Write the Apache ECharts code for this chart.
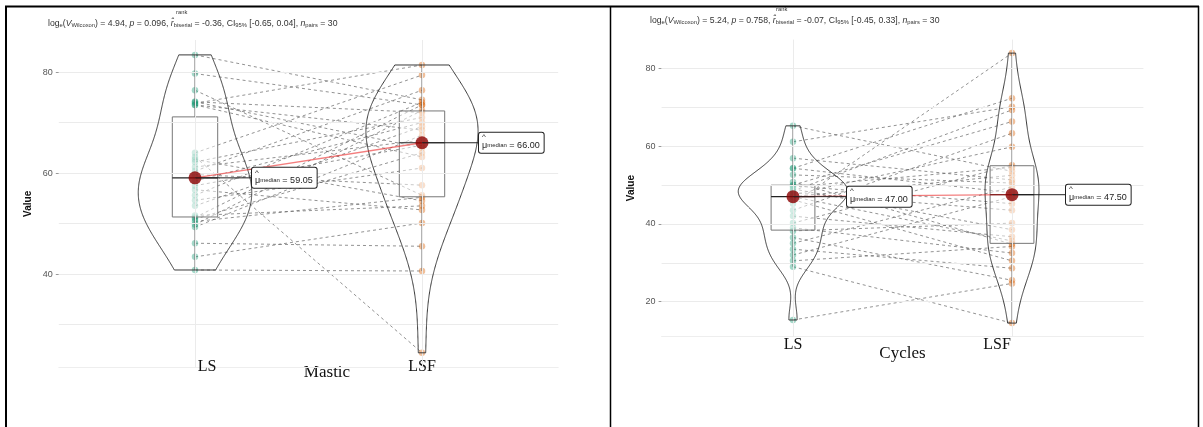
<!DOCTYPE html>
<html>
<head>
<meta charset="utf-8">
<script src="https://cdn.jsdelivr.net/npm/echarts@6/dist/echarts.min.js"></script>
<style>
  html, body { margin: 0; padding: 0; background: #fff; }
  #chart { width: 1203px; height: 427px; }
</style>
</head>
<body>
<div id="chart"></div>
<script>
// Conditions compared within subjects
const groups = ['LS', 'LSF'];

// Mastic: index i is the same subject in both arrays
const masticLS  = [40.8, 43.4, 46.1, 49.3, 49.8, 50.4, 50.9, 51.2, 51.6, 53.5, 54.6, 55.6, 56.7, 57.5, 58.4,
                   59.7, 60.4, 61.2, 62.2, 62.7, 63.2, 64.0, 73.5, 73.5, 73.8, 74.1, 74.1, 76.4, 79.7, 83.4];
const masticLSF = [40.6, 50.1, 45.5, 67.5, 72.4, 55.2, 64.0, 73.5, 53.5, 69.2, 61.0, 74.0, 52.7, 65.5, 70.0,
                   57.6, 76.4, 66.5, 71.0, 54.5, 24.4, 79.4, 68.5, 63.2, 81.4, 65.0, 72.0, 55.6, 73.5, 74.5];

// Cycles: index i is the same subject in both arrays
const cyclesLS  = [15.3, 29.0, 30.5, 32.0, 33.5, 35.0, 36.5, 38.2, 39.0, 40.2, 42.0, 43.5, 45.2, 46.2, 47.0,
                   47.0, 47.5, 48.0, 48.5, 49.0, 49.5, 49.8, 50.0, 50.8, 52.6, 54.3, 54.3, 56.9, 61.1, 65.2];
const cyclesLSF = [24.7, 14.5, 34.2, 47.0, 28.6, 49.5, 25.5, 40.2, 32.5, 55.1, 36.7, 63.3, 83.9, 30.5, 52.5,
                   35.6, 59.8, 43.5, 69.3, 38.5, 54.5, 45.2, 66.3, 34.8, 50.5, 72.3, 48.0, 51.3, 70.1, 53.5];

// Axis ticks (labelled) and minor grid values
const masticTicks = [40, 60, 80];
const masticMinor = [30, 50, 70];
const cyclesTicks = [20, 40, 60, 80];
const cyclesMinor = [30, 50, 70];

// Wilcoxon signed-rank test summaries
const masticTest = { logV: '4.94', p: '0.096', r: '-0.36', ci: '[-0.65, 0.04]', n: '30' };
const cyclesTest = { logV: '5.24', p: '0.758', r: '-0.07', ci: '[-0.45, 0.33]', n: '30' };

// ---------- statistics helpers ----------
function quantile(sorted, p) {
  const h = (sorted.length - 1) * p, lo = Math.floor(h);
  const hiV = sorted[Math.min(lo + 1, sorted.length - 1)];
  return sorted[lo] + (h - lo) * (hiV - sorted[lo]);
}
function boxStats(vals) {
  const s = [...vals].sort((a, b) => a - b);
  const q1 = quantile(s, 0.25), med = quantile(s, 0.5), q3 = quantile(s, 0.75);
  const iqr = q3 - q1;
  const lo = s.find(v => v >= q1 - 1.5 * iqr);
  const hi = [...s].reverse().find(v => v <= q3 + 1.5 * iqr);
  return { q1, med, q3, lo, hi, min: s[0], max: s[s.length - 1], sorted: s };
}
// Gaussian kernel density, rule-of-thumb bandwidth times an adjustment factor
function kde(vals, n, adjust) {
  const st = boxStats(vals), N = vals.length;
  const mean = vals.reduce((a, b) => a + b, 0) / N;
  const sd = Math.sqrt(vals.reduce((a, b) => a + (b - mean) * (b - mean), 0) / (N - 1));
  const bw = adjust * 0.9 * Math.min(sd, (st.q3 - st.q1) / 1.34) * Math.pow(N, -0.2);
  const ys = [], ds = [];
  for (let i = 0; i < n; i++) {
    const y = st.min + (st.max - st.min) * i / (n - 1);
    let d = 0;
    for (const x of vals) { const z = (y - x) / bw; d += Math.exp(-0.5 * z * z); }
    ys.push(y); ds.push(d / (N * bw * Math.sqrt(2 * Math.PI)));
  }
  return { ys, ds };
}

const SANS = 'Liberation Sans';
const SERIF = 'Liberation Serif';

function subtitleText(t) {
  return '{t|log}{s|e}{t|(}{i|V}{s|Wilcoxon}{t|) = ' + t.logV + ', }{i|p}{t| = ' + t.p +
         ', }{i|r\u0302}{s|biserial}{t| = ' + t.r + ', CI}{s|95%}{t| ' + t.ci + ', }{i|n}{s|pairs}{t| = ' + t.n + '}';
}
const subRich = {
  t: { fontSize: 8.7, fontFamily: SANS, color: '#333', fontWeight: 'normal', lineHeight: 14, verticalAlign: 'bottom' },
  i: { fontSize: 8.7, fontFamily: SANS, color: '#333', fontWeight: 'normal', fontStyle: 'italic', lineHeight: 14, verticalAlign: 'bottom' },
  s: { fontSize: 5.8, fontFamily: SANS, color: '#333', fontWeight: 'normal', lineHeight: 6, verticalAlign: 'bottom' }
};

function buildPanel(k, ls, lsf, cfg) {
  const all = ls.concat(lsf);
  const lo = Math.min(...all), hi = Math.max(...all), pad = (hi - lo) * 0.05;
  const stats = [boxStats(ls), boxStats(lsf)];
  const dens = [kde(ls, 256, cfg.adjust), kde(lsf, 256, cfg.adjust)];
  const dMax = Math.max(...dens[0].ds, ...dens[1].ds);
  const medData = [[1, stats[0].med], [2, stats[1].med]];
  const ax = { xAxisIndex: k, yAxisIndex: k };

  const grid = { left: cfg.left, top: cfg.top, width: cfg.width, height: cfg.height };

  const xAxis = {
    gridIndex: k, type: 'value', min: 0.4, max: 2.6,
    splitLine: { show: false }, axisTick: { show: false },
    axisLine: { show: true, lineStyle: { color: '#eeeeee', width: 1 } },
    axisLabel: {
      customValues: [1, 2], margin: cfg.xLabelMargin, verticalAlign: 'middle',
      formatter: v => '{c' + (Math.round(v) - 1) + '|' + groups[Math.round(v) - 1] + '}',
      rich: {
        c0: { fontFamily: SERIF, fontSize: 16, color: '#111', padding: cfg.pad0 },
        c1: { fontFamily: SERIF, fontSize: 16, color: '#111', padding: cfg.pad1 }
      }
    },
    name: cfg.name, nameLocation: 'middle', nameGap: cfg.nameGap, nameMoveOverlap: false,
    nameTextStyle: { fontFamily: SERIF, fontSize: 17, color: '#111', verticalAlign: 'middle', padding: cfg.namePad }
  };

  const yAxis = {
    gridIndex: k, type: 'value', min: lo - pad, max: hi + pad,
    splitLine: { show: false }, axisLine: { show: false },
    axisTick: { show: true, customValues: cfg.ticks, length: 3, lineStyle: { color: '#999' } },
    axisLabel: { customValues: cfg.ticks, color: '#555', fontSize: 9, fontFamily: SANS, margin: 6 },
    name: 'Value', nameLocation: 'middle', nameGap: cfg.yNameGap, nameMoveOverlap: false,
    nameTextStyle: { fontFamily: SANS, fontSize: 10, fontWeight: 'bold', color: '#111' }
  };

  const series = [];
  // background grid lines
  series.push(Object.assign({
    type: 'line', data: [], silent: true, z: 1,
    markLine: {
      silent: true, symbol: ['none', 'none'], label: { show: false }, animation: false,
      lineStyle: { color: '#ebebeb', width: 1, type: 'solid' },
      data: cfg.minor.concat(cfg.ticks).map(v => ({ yAxis: v })).concat([{ xAxis: 1 }, { xAxis: 2 }])
    }
  }, ax));
  // paired observations
  series.push(Object.assign({
    type: 'custom', z: 2, silent: true,
    data: ls.map((a, i) => [1, a, 2, lsf[i]]),
    encode: { x: [0, 2], y: [1, 3] },
    renderItem: (p, api) => {
      const a = api.coord([api.value(0), api.value(1)]);
      const b = api.coord([api.value(2), api.value(3)]);
      return { type: 'line', shape: { x1: a[0], y1: a[1], x2: b[0], y2: b[1] },
               style: { stroke: 'rgba(100,100,100,0.7)', lineWidth: 1, lineDash: [3, 3] } };
    }
  }, ax));
  // raw points
  series.push(Object.assign({ type: 'scatter', z: 3, silent: true, symbolSize: 6.5,
    itemStyle: { color: 'rgba(27,158,119,0.5)' }, data: ls.map(v => [1, v]) }, ax));
  series.push(Object.assign({ type: 'scatter', z: 3, silent: true, symbolSize: 6.5,
    itemStyle: { color: 'rgba(217,95,2,0.5)' }, data: lsf.map(v => [2, v]) }, ax));
  // box plots
  series.push(Object.assign({
    type: 'custom', z: 4, silent: true,
    data: stats.map((s, i) => [i + 1, s.q1, s.med, s.q3, s.lo, s.hi]),
    encode: { x: 0, y: [1, 2, 3, 4, 5] },
    renderItem: (p, api) => {
      const c = api.value(0), q1 = api.value(1), med = api.value(2), q3 = api.value(3);
      const wlo = api.value(4), whi = api.value(5), h = 0.1;
      const tl = api.coord([c - h, q3]), br = api.coord([c + h, q1]);
      const m1 = api.coord([c - h, med]), m2 = api.coord([c + h, med]);
      const t1 = api.coord([c, whi]), t2 = api.coord([c, q3]);
      const b1 = api.coord([c, q1]), b2 = api.coord([c, wlo]);
      return { type: 'group', children: [
        { type: 'rect', shape: { x: tl[0], y: tl[1], width: br[0] - tl[0], height: br[1] - tl[1] },
          style: { fill: 'rgba(255,255,255,0.5)', stroke: '#777', lineWidth: 1 } },
        { type: 'line', shape: { x1: t1[0], y1: t1[1], x2: t2[0], y2: t2[1] }, style: { stroke: '#666', lineWidth: 1 } },
        { type: 'line', shape: { x1: b1[0], y1: b1[1], x2: b2[0], y2: b2[1] }, style: { stroke: '#666', lineWidth: 1 } },
        { type: 'line', shape: { x1: m1[0], y1: m1[1], x2: m2[0], y2: m2[1] }, style: { stroke: '#222', lineWidth: 1.2 } }
      ] };
    }
  }, ax));
  // violins (area-scaled density, trimmed to the data range)
  series.push(Object.assign({
    type: 'custom', z: 5, silent: true,
    data: [[1, stats[0].med], [2, stats[1].med]],
    renderItem: (p, api) => {
      const c = api.value(0), d = dens[p.dataIndex], pts = [];
      for (let j = 0; j < d.ys.length; j++) pts.push(api.coord([c - 0.25 * d.ds[j] / dMax, d.ys[j]]));
      for (let j = d.ys.length - 1; j >= 0; j--) pts.push(api.coord([c + 0.25 * d.ds[j] / dMax, d.ys[j]]));
      return { type: 'polygon', shape: { points: pts },
               style: { fill: 'rgba(0,0,0,0)', stroke: '#3a3a3a', lineWidth: 1 } };
    }
  }, ax));
  // line joining the medians
  series.push(Object.assign({ type: 'line', z: 6, silent: true, symbol: 'none', data: medData,
    lineStyle: { color: 'rgba(235,40,40,0.6)', width: 1.3 } }, ax));
  // median markers
  series.push(Object.assign({ type: 'scatter', z: 7, silent: true, symbolSize: 13,
    itemStyle: { color: '#8b0000' }, data: medData }, ax));
  // median annotations
  series.push(Object.assign({
    type: 'custom', z: 8, silent: true, data: medData,
    renderItem: (p, api) => {
      const pt = api.coord([api.value(0), api.value(1)]);
      const x2 = pt[0] + cfg.labelOffset;
      return { type: 'group', children: [
        { type: 'line', shape: { x1: pt[0], y1: pt[1], x2: x2, y2: pt[1] }, style: { stroke: '#222', lineWidth: 1 } },
        { type: 'text', x: x2, y: pt[1], style: {
            text: '{h|^}\n{m|\u03bc}{s|median}{t| = ' + api.value(1).toFixed(2) + '}',
            align: 'left', verticalAlign: 'middle',
            backgroundColor: '#fff', borderColor: '#222', borderWidth: 1, borderRadius: 2, padding: [2, 4, 2, 3],
            rich: {
              h: { fontSize: 8, fontFamily: SANS, fill: '#222', lineHeight: 5 },
              m: { fontSize: 9, fontFamily: SANS, fill: '#222', lineHeight: 11 },
              s: { fontSize: 6, fontFamily: SANS, fill: '#222', lineHeight: 7 },
              t: { fontSize: 9, fontFamily: SANS, fill: '#222', lineHeight: 11 }
            }
        } }
      ] };
    }
  }, ax));

  return { grid, xAxis, yAxis, series };
}

const left = buildPanel(0, masticLS, masticLSF, {
  left: 58.8, top: 40, width: 499.4, height: 327.7, adjust: 1.4,
  ticks: masticTicks, minor: masticMinor, name: 'Mastic', nameGap: 5, namePad: [0, 0, 0, 37],
  xLabelMargin: -1, pad0: [0, 0, 0, 24], pad1: [0, 0, 0, 0], yNameGap: 26, labelOffset: 57
});
const right = buildPanel(1, cyclesLS, cyclesLSF, {
  left: 661.6, top: 39.6, width: 481.8, height: 297, adjust: 1.0,
  ticks: cyclesTicks, minor: cyclesMinor, name: 'Cycles', nameGap: 17, namePad: [0, 0, 0, 0],
  xLabelMargin: 8, pad0: [0, 0, 0, 0], pad1: [0, 30, 0, 0], yNameGap: 25, labelOffset: 54
});

const chart = echarts.init(document.getElementById('chart'), null, { renderer: 'canvas' });
chart.setOption({
  animation: false,
  backgroundColor: '#fff',
  title: [
    { text: subtitleText(masticTest), left: 48, top: 14, padding: 0, textStyle: { rich: subRich } },
    { text: subtitleText(cyclesTest), left: 650, top: 11, padding: 0, textStyle: { rich: subRich } }
  ],
  grid: [left.grid, right.grid],
  xAxis: [left.xAxis, right.xAxis],
  yAxis: [left.yAxis, right.yAxis],
  series: left.series.concat(right.series),
  graphic: [
    { type: 'text', left: 176, top: 9, style: { text: 'rank', fontSize: 5.8, fontFamily: SANS, fill: '#333' } },
    { type: 'text', left: 776, top: 6, style: { text: 'rank', fontSize: 5.8, fontFamily: SANS, fill: '#333' } },
    // table rules around the two panels
    { type: 'line', shape: { x1: 5, y1: 6.5, x2: 1199, y2: 6.5 }, style: { stroke: '#000', lineWidth: 2 } },
    { type: 'line', shape: { x1: 6, y1: 6, x2: 6, y2: 427 }, style: { stroke: '#000', lineWidth: 2 } },
    { type: 'line', shape: { x1: 610.5, y1: 6, x2: 610.5, y2: 427 }, style: { stroke: '#000', lineWidth: 1.5 } },
    { type: 'line', shape: { x1: 1198.5, y1: 6, x2: 1198.5, y2: 427 }, style: { stroke: '#000', lineWidth: 1.5 } }
  ]
});
</script>
</body>
</html>
